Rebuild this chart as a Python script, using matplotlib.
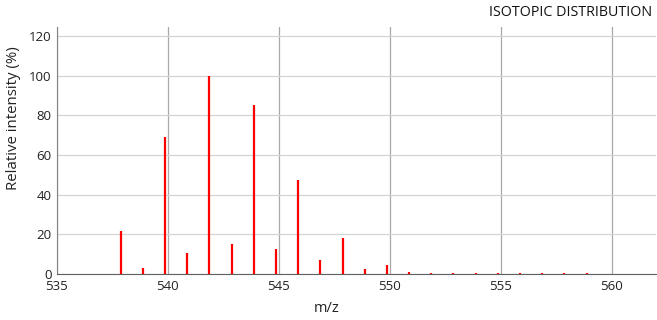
import matplotlib
matplotlib.use("Agg")
import matplotlib.pyplot as plt

plt.rcParams['font.family'] = ['Open Sans', 'DejaVu Sans']

# isotopic peaks (m/z, relative intensity %)
mz = [537.87, 538.87, 539.87, 540.87, 541.87, 542.87, 543.87, 544.87, 545.87,
      546.87, 547.87, 548.87, 549.87, 550.87, 551.87, 552.87, 553.87, 554.87,
      555.87, 556.87, 557.87, 558.87]
intensity = [21.5, 3.0, 69.0, 10.5, 100.0, 15.0, 85.0, 12.5, 47.5,
             7.0, 18.0, 2.5, 4.5, 0.9, 0.7, 0.45, 0.4, 0.4,
             0.4, 0.4, 0.35, 0.35]
x_ticks = [535, 540, 545, 550, 555, 560]
y_ticks = [0, 20, 40, 60, 80, 100, 120]

fig = plt.figure(figsize=(6.57, 3.2), dpi=100)
ax = fig.add_axes([57/657, 46/320, 599/657, 247/320])

ax.vlines(mz, 0, intensity, colors='#ff0000', linewidth=1.6, zorder=3)

ax.set_xlim(535, 562)
ax.set_ylim(0, 124.5)
ax.set_xticks(x_ticks)
ax.set_yticks(y_ticks)

ax.xaxis.grid(True, color='#a8a8a8', linewidth=0.9)
ax.yaxis.grid(True, color='#d4d4d4', linewidth=0.9)
ax.set_axisbelow(True)

for s in ['top', 'right']:
    ax.spines[s].set_visible(False)
ax.spines['left'].set_color('#808080')
ax.spines['bottom'].set_color('#606060')
ax.tick_params(length=0, labelsize=9.5, colors='#222222', pad=4)

# axis titles placed in figure pixels like the reference
fig.text(327/657, 1 - 308/320, 'm/z', ha='center', va='center',
         fontsize=10.5, color='#222222')
fig.text(14/657, 1 - 118/320, 'Relative intensity (%)', ha='center', va='center',
         rotation=90, fontsize=10.8, color='#222222')

fig.text(652/657, 1 - 12/320, 'ISOTOPIC DISTRIBUTION', ha='right', va='center',
         fontsize=10.3, color='#111111')

fig.savefig('out.png', dpi=100)
